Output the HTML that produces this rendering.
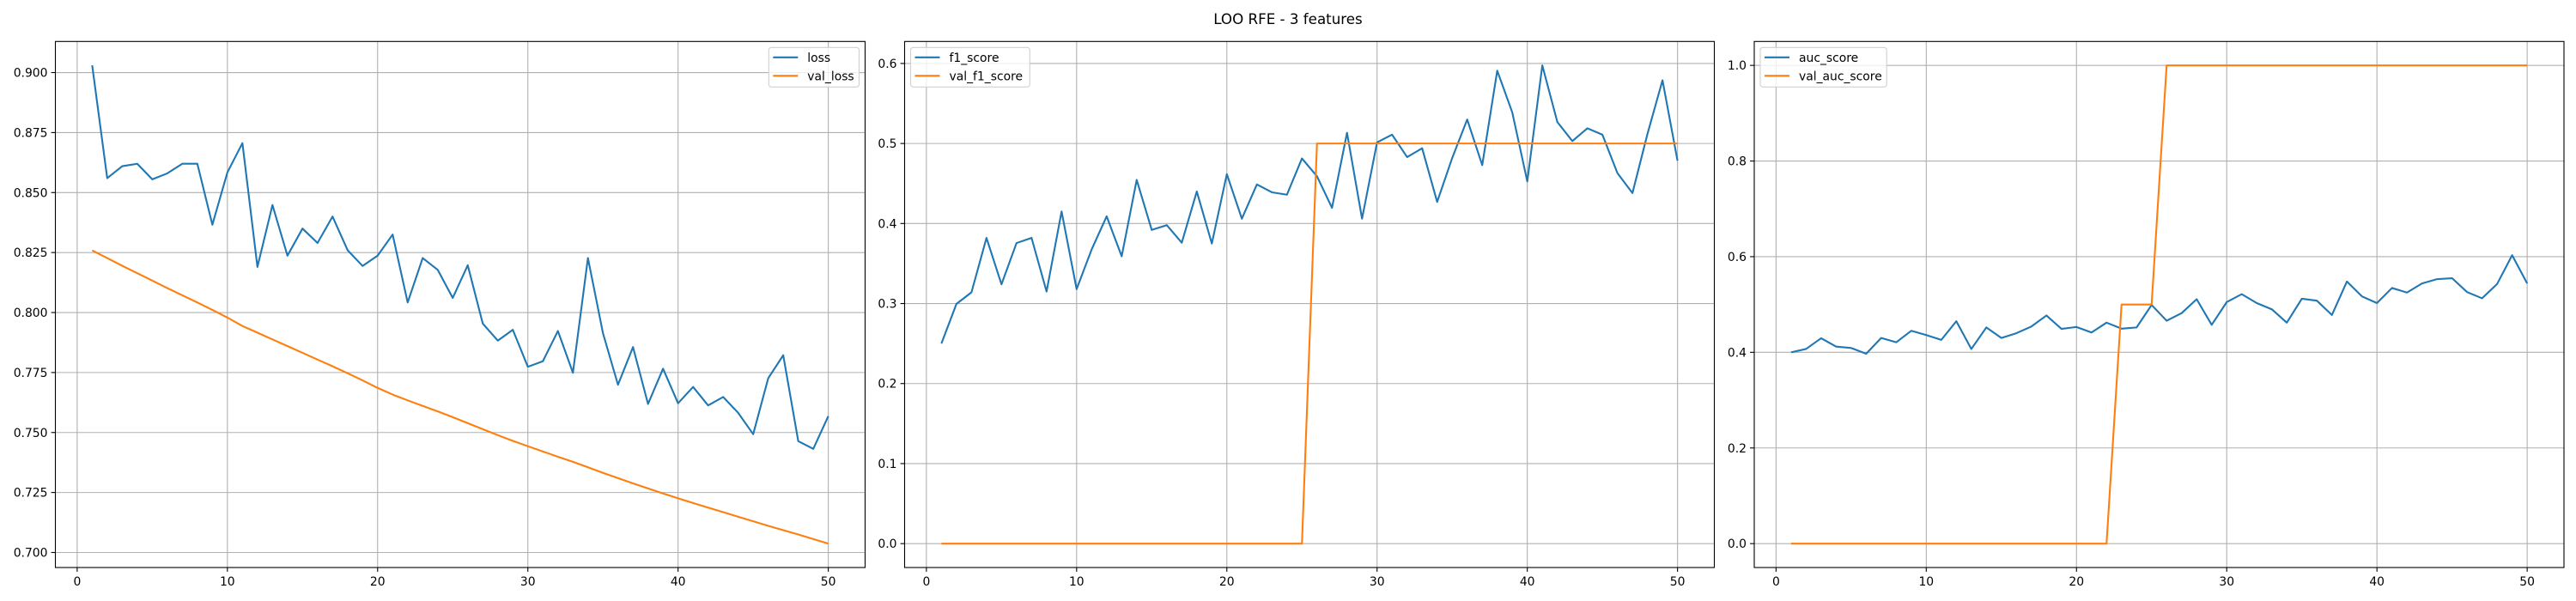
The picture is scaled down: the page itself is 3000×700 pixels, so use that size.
<!DOCTYPE html>
<html><head><meta charset="utf-8"><style>
html,body{margin:0;padding:0;background:#fff;}
svg{display:block;font-family:"DejaVu Sans","Liberation Sans",sans-serif;}
</style></head><body>
<svg id="fig" width="3000" height="700" viewBox="0 0 3000 700" xmlns="http://www.w3.org/2000/svg">
<rect width="3000" height="700" fill="#fff"/>
<text x="1500" y="28" text-anchor="middle" font-size="16.7">LOO RFE - 3 features</text>
</svg>
<script>
const epochs = Array.from({length:50},(_,i)=>i+1);
const loss = [0.903,0.856,0.861,0.862,0.8555,0.858,0.862,0.862,0.8366,0.8584,0.8706,0.819,0.8448,0.8237,0.835,0.829,0.840,0.826,0.8194,0.8237,0.8325,0.8042,0.8227,0.8178,0.8061,0.8197,0.7954,0.7883,0.7928,0.7774,0.7797,0.7923,0.7749,0.8227,0.7914,0.7699,0.7856,0.7619,0.7766,0.7622,0.769,0.7613,0.7648,0.7582,0.7493,0.7726,0.7822,0.7464,0.7432,0.7568];
const valLoss = [0.8259,0.8227,0.8195,0.8164,0.8133,0.8102,0.8072,0.8042,0.8011,0.7979,0.7944,0.7916,0.7888,0.7860,0.7832,0.7804,0.7776,0.7747,0.7717,0.7686,0.7658,0.7634,0.7611,0.7588,0.7564,0.7539,0.7514,0.7489,0.7465,0.7443,0.7421,0.7399,0.7378,0.7355,0.7332,0.7310,0.7288,0.7267,0.7246,0.7226,0.7206,0.7187,0.7168,0.7149,0.7130,0.7111,0.7093,0.7075,0.7056,0.7037];
const f1 = [0.250,0.2995,0.314,0.382,0.324,0.3756,0.382,0.315,0.415,0.318,0.3675,0.409,0.359,0.4545,0.392,0.398,0.376,0.440,0.375,0.4617,0.406,0.4488,0.439,0.436,0.4813,0.459,0.4196,0.5134,0.406,0.5014,0.511,0.483,0.494,0.427,0.4818,0.530,0.473,0.591,0.5388,0.4526,0.5976,0.5268,0.503,0.519,0.511,0.463,0.438,0.512,0.579,0.4785];
const valF1 = [0,0,0,0,0,0,0,0,0,0,0,0,0,0,0,0,0,0,0,0,0,0,0,0,0,0.5,0.5,0.5,0.5,0.5,0.5,0.5,0.5,0.5,0.5,0.5,0.5,0.5,0.5,0.5,0.5,0.5,0.5,0.5,0.5,0.5,0.5,0.5,0.5,0.5];
const auc = [0.400,0.407,0.4295,0.412,0.409,0.397,0.430,0.421,0.445,0.436,0.426,0.465,0.407,0.452,0.430,0.440,0.454,0.477,0.449,0.453,0.4415,0.462,0.4495,0.452,0.499,0.466,0.482,0.511,0.4575,0.505,0.5216,0.503,0.490,0.462,0.512,0.508,0.478,0.548,0.517,0.503,0.5345,0.525,0.544,0.553,0.555,0.526,0.513,0.543,0.603,0.544];
const valAuc = [0,0,0,0,0,0,0,0,0,0,0,0,0,0,0,0,0,0,0,0,0,0,0.5,0.5,0.5,1,1,1,1,1,1,1,1,1,1,1,1,1,1,1,1,1,1,1,1,1,1,1,1,1];
const xTicks = [0,10,20,30,40,50];
const lossTicks = [0.700,0.725,0.750,0.775,0.800,0.825,0.850,0.875,0.900];
const f1Ticks = [0.0,0.1,0.2,0.3,0.4,0.5,0.6];
const aucTicks = [0.0,0.2,0.4,0.6,0.8,1.0];

const NS='http://www.w3.org/2000/svg';
const svg=document.getElementById('fig');
function mk(tag,attrs,parent){const e=document.createElementNS(NS,tag);for(const k in attrs)e.setAttribute(k,attrs[k]);(parent||svg).appendChild(e);return e;}

function panel(name,L,R,T,B,s1,s2,names,yt,dec,legendRight){
  const g=mk('g',{});
  
  
  const all=s1.concat(s2);
  let mn=Math.min(...all),mx=Math.max(...all),m=(mx-mn)*0.05;
  const y0=mn-m,y1=mx+m;
  const x0=1-49*0.05,x1=50+49*0.05;
  const X=v=>L+(v-x0)/(x1-x0)*(R-L);
  const Y=v=>B-(v-y0)/(y1-y0)*(B-T);
  xTicks.forEach(t=>{
    const l=mk('line',{x1:X(t),x2:X(t),y1:T,y2:B,stroke:'#b0b0b0','stroke-width':1.1},g);
    
    
    mk('line',{x1:X(t),x2:X(t),y1:B,y2:B+4.9,stroke:'#000','stroke-width':1.1},g);
    const tx=mk('text',{x:X(t),y:B+21,'text-anchor':'middle','font-size':13.9},g);
    tx.textContent=t;
    
    
  });
  yt.forEach(t=>{
    const l=mk('line',{x1:L,x2:R,y1:Y(t),y2:Y(t),stroke:'#b0b0b0','stroke-width':1.1},g);
    
    
    mk('line',{x1:L-4.9,x2:L,y1:Y(t),y2:Y(t),stroke:'#000','stroke-width':1.1},g);
    const tx=mk('text',{x:L-9,y:Y(t)+5,'text-anchor':'end','font-size':13.9},g);
    tx.textContent=t.toFixed(dec);
    
    
  });
  const cols=['#1f77b4','#ff7f0e'];
  [s1,s2].forEach((s,i)=>{
    const p=mk('polyline',{points:s.map((v,j)=>X(epochs[j])+','+Y(v)).join(' '),fill:'none',stroke:cols[i],'stroke-width':2.1,'stroke-linejoin':'round'},g);
    
    
  });
  const fr=mk('rect',{x:L,y:T,width:R-L,height:B-T,fill:'none',stroke:'#000','stroke-width':1.1},g);
  
  
  const w = names[1].length*8.4+38;
  const lx = legendRight ? R-7-w : L+7;
  const lg=mk('g',{},g);
  
  
  mk('rect',{x:lx,y:T+7,width:w,height:46,rx:3,fill:'#fff','fill-opacity':0.8,stroke:'#d0d0d0','stroke-width':1.1},lg);
  names.forEach((n,i)=>{
    const yy=T+18.5+i*21.5;
    mk('line',{x1:lx+5,x2:lx+34,y1:yy,y2:yy,stroke:cols[i],'stroke-width':2.1},lg);
    const tx=mk('text',{x:lx+45,y:yy+5,'font-size':13.9},lg);
    tx.textContent=n;
    
    
  });
}
panel('loss',64.5,1007.5,48.3,661,loss,valLoss,['loss','val_loss'],lossTicks,3,true);
panel('f1',1053.5,1996.5,48.3,661,f1,valF1,['f1_score','val_f1_score'],f1Ticks,1,false);
panel('auc',2043,2986,48.3,661,auc,valAuc,['auc_score','val_auc_score'],aucTicks,1,false);
</script>
</body></html>
